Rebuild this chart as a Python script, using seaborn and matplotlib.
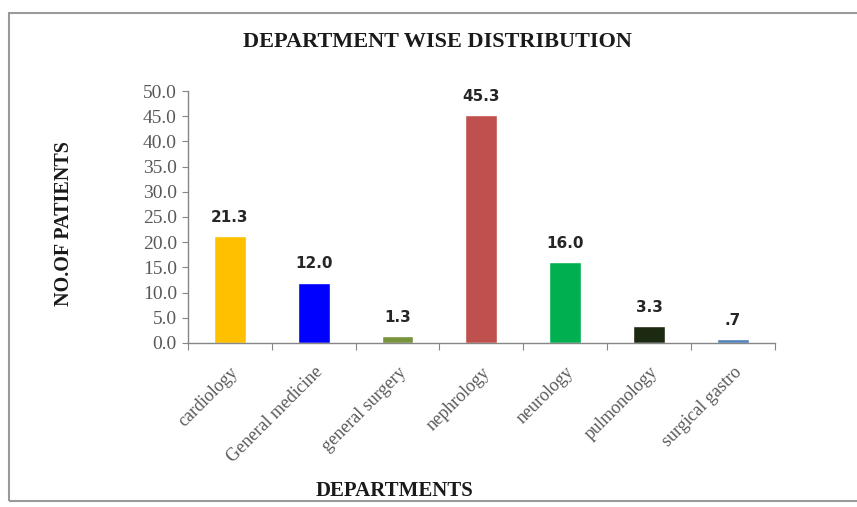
import matplotlib
matplotlib.use("Agg")
import matplotlib.pyplot as plt
from matplotlib.patches import Rectangle
from matplotlib.ticker import FixedLocator
import seaborn as sns
import pandas as pd

departments = ["cardiology", "General medicine", "general surgery", "nephrology",
               "neurology", "pulmonology", "surgical gastro"]
patients = [21.3, 12.0, 1.3, 45.3, 16.0, 3.3, 0.7]
value_labels = ["21.3", "12.0", "1.3", "45.3", "16.0", "3.3", ".7"]
bar_colors = ["#FFC000", "#0000FF", "#77933C", "#C0504D", "#00B050", "#1D2A12", "#4F81BD"]
y_ticks = [0, 5, 10, 15, 20, 25, 30, 35, 40, 45, 50]

sns.set_theme(style="white")
plt.rcParams["font.family"] = ["Liberation Serif", "DejaVu Serif"]

df = pd.DataFrame({"department": departments, "patients": patients})

fig = plt.figure(figsize=(8.57, 5.07), dpi=100)
ax = fig.add_axes([0.2194, 0.3235, 0.6846, 0.4970])

sns.barplot(data=df, x="department", y="patients", hue="department",
            palette=bar_colors, width=0.38, legend=False, ax=ax, saturation=1)

ax.set_ylim(0, 50)
ax.set_xlim(-0.5, len(departments) - 0.5)
ax.set_yticks(y_ticks)
ax.set_yticklabels([f"{v:.1f}" for v in y_ticks], fontsize=14, color="#595959")
ax.set_xticks(range(len(departments)))
ax.set_xticklabels(departments, rotation=45, ha="right", rotation_mode="anchor",
                   fontsize=13, color="#595959")
ax.xaxis.set_minor_locator(FixedLocator([i - 0.5 for i in range(len(departments) + 1)]))
ax.tick_params(axis="x", which="major", length=0, pad=15)
ax.tick_params(axis="x", which="minor", length=5, width=0.8, color="#868686", direction="out", bottom=True)
ax.tick_params(axis="y", length=4, width=0.8, color="#868686", direction="out", left=True, pad=4)

for side in ["top", "right"]:
    ax.spines[side].set_visible(False)
for side in ["left", "bottom"]:
    ax.spines[side].set_color("#868686")
    ax.spines[side].set_linewidth(1.0)

for i, (v, lab) in enumerate(zip(patients, value_labels)):
    ax.text(i, v + 2.2, lab, ha="center", va="bottom", fontsize=11, fontweight="bold",
            color="#262626", family=["DejaVu Sans"])

ax.set_xlabel("")
ax.set_ylabel("")
fig.text(0.51, 0.917, "DEPARTMENT WISE DISTRIBUTION", ha="center", va="center",
         fontsize=16, fontweight="bold", color="#1a1a1a")
fig.text(0.075, 0.56, "NO.OF PATIENTS", ha="center", va="center", rotation=90,
         fontsize=14.5, fontweight="bold", color="#1a1a1a")
fig.text(0.46, 0.032, "DEPARTMENTS", ha="center", va="center",
         fontsize=15, fontweight="bold", color="#1a1a1a")

fig.patches.append(Rectangle((0.011, 0.012), 1.2, 0.962, transform=fig.transFigure,
                             fill=False, edgecolor="#9a9a9a", linewidth=1.5, zorder=0))

fig.savefig("out.png", dpi=100, facecolor="white")
